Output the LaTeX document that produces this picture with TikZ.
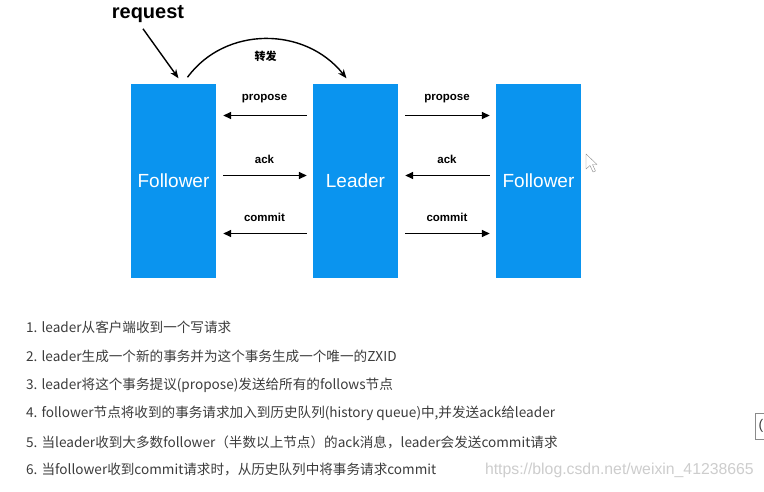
\documentclass[tikz,border=0pt]{standalone}
\usepackage{fontspec}
\setmainfont{Liberation Sans}
\newfontfamily\cjk{Noto Sans CJK SC}
\usepackage{tikz}
\usetikzlibrary{arrows.meta,positioning}
\usepackage{xcolor}
\definecolor{ZkBlue}{HTML}{0A94EF}
\definecolor{ZkText}{HTML}{3C3C3C}
\definecolor{ZkMark}{HTML}{CDCDCD}
\definecolor{ZkEdge}{HTML}{8A8A8A}

\begin{document}
\begin{tikzpicture}[x=1pt,y=-1pt,>={Triangle[length=8pt,width=7pt]},
  zkbox/.style={fill=ZkBlue,minimum width=85pt,minimum height=194pt,inner sep=0pt,
    text=white,font=\fontsize{19}{19}\selectfont},
  msg/.style={line width=1.6pt,shorten <=7pt,shorten >=6pt},
  msglabel/.style={midway,above=11.5pt,inner sep=0pt,font=\bfseries\fontsize{11.5}{12}\selectfont},
  stepline/.style={anchor=west,inner sep=0pt,text=ZkText,font=\cjk\fontsize{13.6}{13.6}\selectfont}]
  \useasboundingbox (0,0) rectangle (764,491);
  \fill[white] (0,0) rectangle (764,491);
  \node[zkbox] (f1) at (173.5,180.5) {Follower};
  \node[zkbox] (ld) at (355.5,180.5) {Leader};
  \node[zkbox] (f2) at (538.5,180.5) {Follower};
  \node[font=\bfseries\fontsize{20}{20}\selectfont,inner sep=0pt] (req) at (148,14) {request};
  \draw[->,line width=1.4pt,>={Stealth[length=9pt,width=7pt]}]
    ([xshift=-5pt,yshift=-6pt]req.south) -- ([xshift=5pt,yshift=5pt]f1.north);
  \draw[->,line width=1.4pt,>={Stealth[length=9pt,width=7pt]}]
    ([xshift=14pt,yshift=6pt]f1.north) .. controls (225,26) and (305,26) ..
    node[below=11pt,inner sep=0pt,font=\cjk\bfseries\fontsize{11}{11}\selectfont] (fwd) {转发}
    ([xshift=-9pt,yshift=5pt]ld.north);
  \draw[msg,<-] ([yshift=65pt]f1.east) -- ([yshift=65pt]ld.west) node[msglabel] {propose};
  \draw[msg,->] ([yshift=5pt]f1.east) -- ([yshift=5pt]ld.west) node[msglabel] {ack};
  \draw[msg,<-] ([yshift=-53pt]f1.east) -- ([yshift=-53pt]ld.west) node[msglabel] {commit};
  \draw[msg,->] ([yshift=65pt]ld.east) -- ([yshift=65pt]f2.west) node[msglabel] {propose};
  \draw[msg,<-] ([yshift=5pt]ld.east) -- ([yshift=5pt]f2.west) node[msglabel] {ack};
  \draw[msg,->] ([yshift=-53pt]ld.east) -- ([yshift=-53pt]f2.west) node[msglabel] {commit};
  \foreach \i/\y/\t in {
    1/327/{1. leader从客户端收到一个写请求},
    2/356/{2. leader生成一个新的事务并为这个事务生成一个唯一的ZXID},
    3/385/{3. leader将这个事务提议(propose)发送给所有的follows节点},
    4/413/{4. follower节点将收到的事务请求加入到历史队列(history queue)中,并发送ack给leader},
    5/442/{5. 当leader收到大多数follower（半数以上节点）的ack消息，leader会发送commit请求},
    6/470/{6. 当follower收到commit请求时，从历史队列中将事务请求commit}}
    \node[stepline] (s\i) at (26,\y) {\t};
  \node[anchor=east,inner sep=0pt,text=ZkMark,font=\fontsize{15.8}{15.8}\selectfont] (mark) at (754,470)
    {https://blog.csdn.net/weixin\_41238665};
  \draw[ZkEdge,fill=white,line join=round] (586,154) -- (586,169) -- (590,165.5) -- (593,172)
    -- (595.5,171) -- (592.5,164.5) -- (597,164.5) -- cycle;
  \draw[ZkEdge,line width=1pt] (764.5,413) -- (755.5,413) -- (755.5,439) -- (764.5,439);
  \node[inner sep=0pt,text=ZkText,font=\fontsize{14}{14}\selectfont] (edge) at (761,426) {(};
\end{tikzpicture}
\end{document}
